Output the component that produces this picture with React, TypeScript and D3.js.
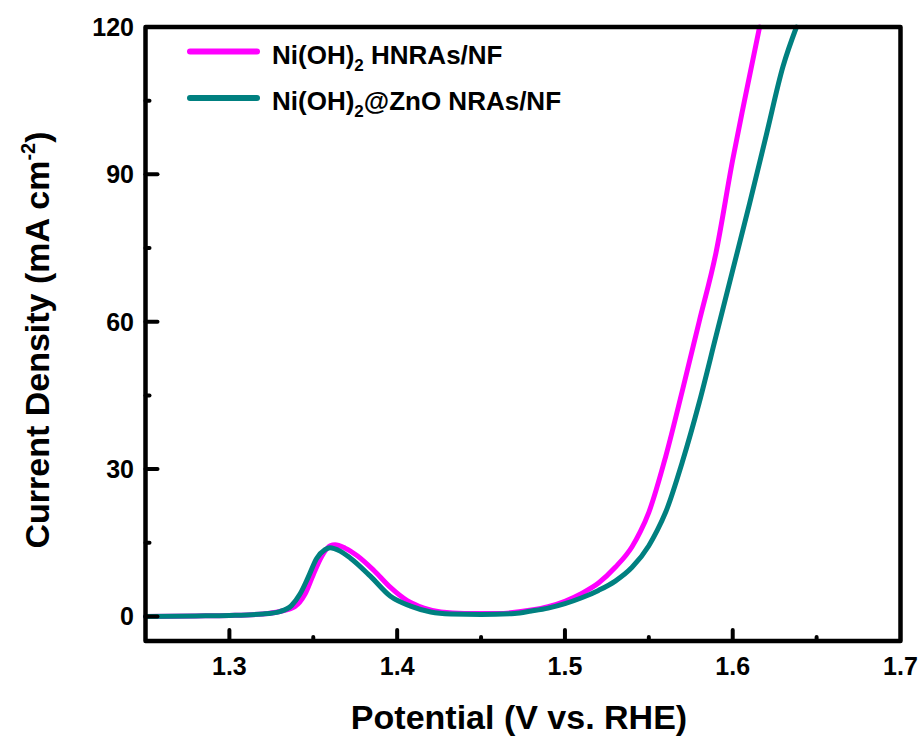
import React from 'react'
import * as d3 from 'd3'

// Ni(OH)2 HNRAs/NF
const hnrasV = [1.25, 1.28, 1.30, 1.32, 1.33, 1.339, 1.345, 1.350, 1.355, 1.360, 1.363, 1.369, 1.376, 1.386, 1.396, 1.406, 1.416, 1.426, 1.44, 1.46, 1.48, 1.49, 1.50, 1.51, 1.52, 1.53, 1.54, 1.545, 1.55, 1.56, 1.57, 1.58, 1.59, 1.60, 1.607, 1.616]
const hnrasJ = [0, 0.1, 0.2, 0.5, 1.0, 2.0, 4.5, 8.5, 12.2, 14.4, 14.6, 13.9, 12.4, 9.4, 5.9, 3.2, 1.7, 0.9, 0.6, 0.6, 1.3, 2.0, 3.1, 4.7, 6.8, 10.0, 14.2, 17.3, 21.2, 32.5, 46, 60, 74, 93, 105, 120]

// Ni(OH)2@ZnO NRAs/NF
const znoV = [1.25, 1.28, 1.30, 1.32, 1.33, 1.337, 1.342, 1.347, 1.352, 1.357, 1.36, 1.366, 1.372, 1.384, 1.396, 1.408, 1.42, 1.432, 1.45, 1.47, 1.48, 1.49, 1.50, 1.51, 1.52, 1.53, 1.54, 1.55, 1.555, 1.56, 1.57, 1.58, 1.59, 1.60, 1.61, 1.62, 1.63, 1.638]
const znoJ = [0, 0.1, 0.2, 0.5, 1.0, 2.2, 4.5, 8.0, 11.8, 13.6, 14.0, 13.3, 11.9, 8.2, 4.1, 2.1, 0.9, 0.5, 0.4, 0.6, 1.1, 1.7, 2.6, 3.8, 5.3, 7.2, 10.0, 14.4, 17.5, 21.2, 31.5, 43.5, 57, 70.5, 84, 98, 112, 120]

const xTicks = [1.3, 1.4, 1.5, 1.6, 1.7]
const xMinor = [1.35, 1.45, 1.55, 1.65]
const yTicks = [0, 30, 60, 90, 120]
const yMinor = [15, 45, 75, 105]

const colors = ['#ff00ff', '#008080']

const font = '"Liberation Sans", Arial, sans-serif'

export default function App() {
  const x = d3.scaleLinear().domain([1.25, 1.7]).range([145.5, 900.5])
  const y = d3.scaleLinear().domain([-5, 120]).range([641, 27])

  const line = d3.line<[number, number]>()
    .x(d => x(d[0]))
    .y(d => y(d[1]))
    .curve(d3.curveMonotoneX)

  const hnras = hnrasV.map((v, i) => [v, hnrasJ[i]] as [number, number])
  const zno = znoV.map((v, i) => [v, znoJ[i]] as [number, number])

  const [x0, x1] = x.range()
  const [y0, y1] = y.range()

  return (
    <svg width={924} height={739} style={{ position: 'absolute', left: 0, top: 0, background: '#fff' }}
      fontFamily={font} fontWeight="bold">
      {/* curves, teal on top */}
      <path d={line(hnras) || ''} fill="none" stroke={colors[0]} strokeWidth={5} strokeLinejoin="round" strokeLinecap="round" />
      <path d={line(zno) || ''} fill="none" stroke={colors[1]} strokeWidth={5} strokeLinejoin="round" strokeLinecap="round" />

      {/* frame */}
      <rect x={x0} y={y1} width={x1 - x0} height={y0 - y1} fill="none" stroke="#000" strokeWidth={4.5} strokeLinejoin="round" />

      {/* x ticks, pointing in */}
      {xTicks.filter(t => t < 1.69).map(t => (
        <line key={'xt' + t} x1={x(t)} x2={x(t)} y1={y0} y2={y0 - 11} stroke="#000" strokeWidth={4} strokeLinecap="round" />
      ))}
      {xMinor.map(t => (
        <line key={'xm' + t} x1={x(t)} x2={x(t)} y1={y0} y2={y0 - 4} stroke="#000" strokeWidth={4} strokeLinecap="round" />
      ))}
      {xTicks.map(t => (
        <text key={'xl' + t} x={x(t)} y={675} textAnchor="middle" fontSize={25}>{t.toFixed(1)}</text>
      ))}

      {/* y ticks */}
      {yTicks.filter(t => t < 119).map(t => (
        <line key={'yt' + t} x1={x0} x2={x0 + 12} y1={y(t)} y2={y(t)} stroke="#000" strokeWidth={4} strokeLinecap="round" />
      ))}
      {yMinor.map(t => (
        <line key={'ym' + t} x1={x0} x2={x0 + 4} y1={y(t)} y2={y(t)} stroke="#000" strokeWidth={4} strokeLinecap="round" />
      ))}
      {yTicks.map(t => (
        <text key={'yl' + t} x={134} y={y(t) + 9} textAnchor="end" fontSize={25}>{t}</text>
      ))}

      {/* axis titles */}
      <text x={519} y={729} textAnchor="middle" fontSize={34}>Potential (V vs. RHE)</text>
      <text transform="translate(49,340) rotate(-90)" textAnchor="middle" fontSize={34}>
        Current Density (mA cm<tspan fontSize={20} dy={-14}>-2</tspan><tspan dy={14}>)</tspan>
      </text>

      {/* legend */}
      <line x1={190} x2={257} y1={51.5} y2={51.5} stroke={colors[0]} strokeWidth={6} strokeLinecap="round" />
      <text x={272} y={64} fontSize={26}>
        Ni(OH)<tspan fontSize={17} dy={7}>2</tspan><tspan dy={-7}> HNRAs/NF</tspan>
      </text>
      <line x1={190} x2={257} y1={98} y2={98} stroke={colors[1]} strokeWidth={6} strokeLinecap="round" />
      <text x={272} y={110} fontSize={26}>
        Ni(OH)<tspan fontSize={17} dy={7}>2</tspan><tspan dy={-7}>@ZnO NRAs/NF</tspan>
      </text>
    </svg>
  )
}
